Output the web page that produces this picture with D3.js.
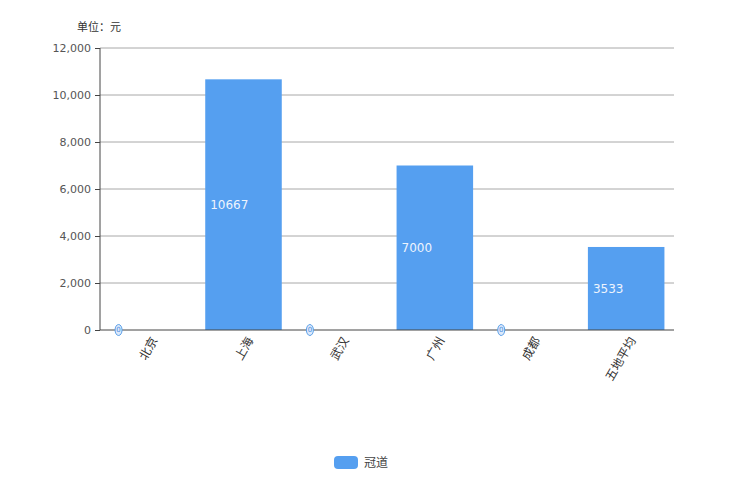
<!DOCTYPE html>
<html><head><meta charset="utf-8">
<script src="https://cdn.jsdelivr.net/npm/d3@7"></script>
<style>body{margin:0;background:#fff;}svg{display:block;font-family:"DejaVu Sans","Noto Sans CJK SC",sans-serif;}</style>
</head><body><svg id="c" width="735" height="478"></svg>
<script>
const categories = ["北京","上海","武汉","广州","成都","五地平均"];
const values = [0,10667,0,7000,0,3533];
const yTicks = [0,2000,4000,6000,8000,10000,12000];
const seriesName = "冠道";
const unitLabel = "单位：元";

const svg = d3.select("#c");
const m = {l:100, r:674, t:48, b:330};
const x = d3.scaleBand().domain(categories).range([m.l, m.r]).paddingInner(0.2).paddingOuter(0.1);
const y = d3.scaleLinear().domain([0,12000]).range([m.b, m.t]);
const blue = "#559ff0";

// gridlines
svg.append("g").selectAll("line").data(yTicks.filter(d=>d>0)).join("line")
  .attr("x1", m.l).attr("x2", m.r).attr("y1", d=>y(d)).attr("y2", d=>y(d))
  .attr("stroke", "#a8a8a8").attr("stroke-width", 1);

// y axis
const ya = svg.append("g").attr("transform", `translate(${m.l},0)`)
  .call(d3.axisLeft(y).tickValues(yTicks).tickSize(5).tickPadding(4).tickFormat(d3.format(",")));
ya.select(".domain").attr("stroke", "#444").attr("d", `M0,${m.t}V${m.b}`);
ya.selectAll(".tick line").attr("stroke", "#444");
ya.selectAll("text").attr("fill", "#555").style("font-size", "11px").style("font-family", "DejaVu Sans");

// bars
svg.append("g").selectAll("rect").data(values.map((v,i)=>({v, c:categories[i]}))).join("rect")
  .attr("x", d=>x(d.c)).attr("width", x.bandwidth())
  .attr("y", d=>y(d.v)).attr("height", d=>y(0)-y(d.v))
  .attr("fill", blue);

// x axis
const xa = svg.append("g").attr("transform", `translate(0,${m.b})`)
  .call(d3.axisBottom(d3.scalePoint().domain(categories).range([x(categories[0])+x.bandwidth()/2, x(categories[5])+x.bandwidth()/2])).tickSize(0).tickPadding(0));
xa.select(".domain").attr("stroke", "#444").attr("d", `M${m.l},0H${m.r}`);
xa.selectAll("text").attr("fill", "#333").style("font-size", "12px")
  .style("font-family", "Noto Sans CJK SC")
  .attr("text-anchor", "end").attr("dy", "0.35em")
  .attr("transform", "translate(6,8) rotate(-60)");

// value labels
const lab = svg.append("g");
values.forEach((v,i)=>{
  const bx = x(categories[i]);
  if (v > 0) {
    lab.append("text").attr("x", bx+5).attr("y", (y(v)+y(0))/2).attr("dy","0.35em")
      .attr("fill", "#eef4fd").style("font-size","12px").text(v);
  } else {
    lab.append("ellipse").attr("cx", bx+9).attr("cy", y(0)).attr("rx", 3.5).attr("ry", 5.5)
      .attr("fill", "#dce9fb").attr("stroke", "#5a9fe8").attr("stroke-width", 1);
    lab.append("text").attr("x", bx+9).attr("y", y(0)).attr("dy","0.35em").attr("text-anchor","middle")
      .attr("fill", "#4a8fe0").style("font-size","7px").text(v);
  }
});

// unit label
svg.append("text").attr("x", 77).attr("y", 31).attr("fill", "#333").style("font-size","11px")
  .style("font-family","Noto Sans CJK SC").text(unitLabel);

// legend
svg.append("rect").attr("x", 334).attr("y", 456).attr("width", 24).attr("height", 13).attr("rx", 4).attr("fill", blue);
svg.append("text").attr("x", 364).attr("y", 463).attr("dy","0.35em").attr("fill", "#444").style("font-size","12px")
  .style("font-family","Noto Sans CJK SC").text(seriesName);
</script></body></html>
